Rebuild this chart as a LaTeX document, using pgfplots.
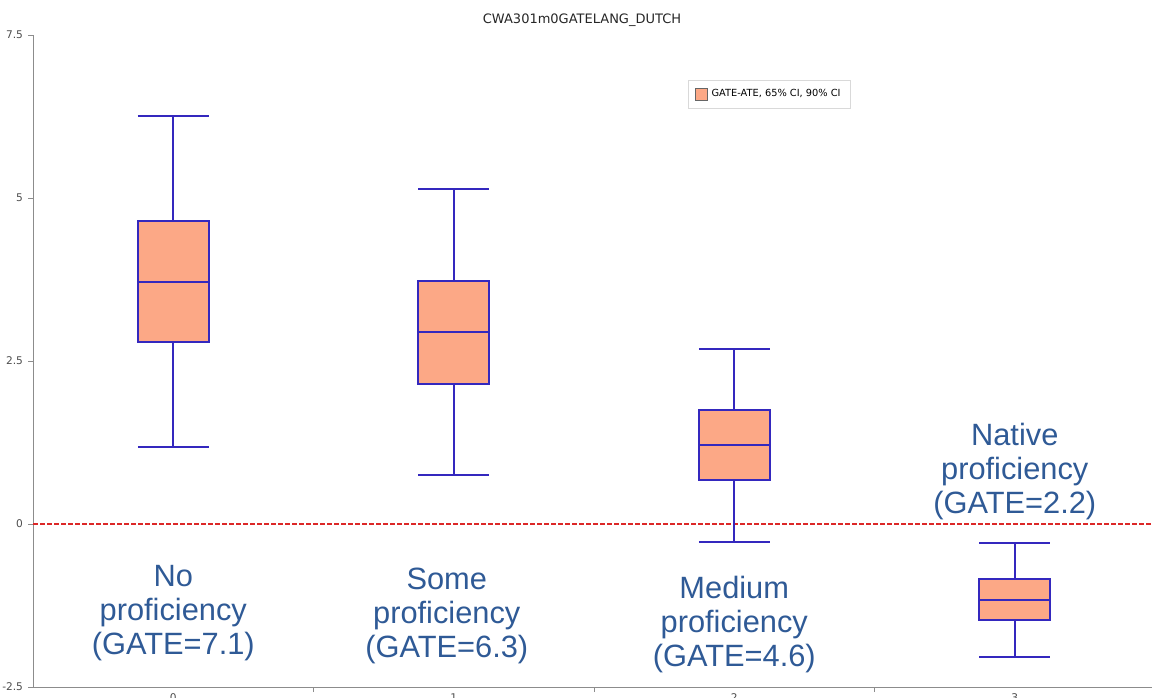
\documentclass[border=0pt]{standalone}
\usepackage{pgfplots}
\pgfplotsset{compat=1.18}
\usepgfplotslibrary{statistics}
\usepackage{fontspec}
\setmainfont{DejaVu Sans}
\newfontfamily\annfont{Liberation Sans}
\definecolor{boxfill}{RGB}{252,168,134}
\definecolor{boxline}{RGB}{52,40,190}
\definecolor{anncol}{RGB}{47,90,150}
\definecolor{zeroline}{RGB}{220,40,40}

\begin{document}
\begin{tikzpicture}[
  ann/.style={font=\annfont\fontsize{15.4}{17}\selectfont, text=anncol, align=center}
]
\path[use as bounding box] (0,0) rectangle (576pt,348.5pt);
\node[font=\fontsize{6.5}{8}\selectfont, text=black!85] at (291pt,338.5pt) {CWA301m0GATELANG\_DUTCH};
\begin{axis}[
  at={(16.5pt,5pt)}, anchor=south west,
  scale only axis, width=561pt, height=326pt,
  xmin=-0.5, xmax=3.5, ymin=-2.5, ymax=7.5,
  axis x line=bottom, axis y line=left,
  axis line style={black!45, -},
  tick align=outside, major tick length=2.5pt,
  tick style={black!45},
  ytick={-2.5,0,2.5,5,7.5},
  yticklabels={-2.5,0,2.5,5,7.5},
  xtick={0.5,1.5,2.5}, xticklabels={},
  extra x ticks={0,1,2,3},
  extra x tick labels={0,1,2,3},
  extra x tick style={major tick length=0pt},
  tick label style={font=\fontsize{5.3}{6}\selectfont, text=black!70},
  yticklabel style={xshift=1pt},
  legend style={at={(0.584,0.931)}, anchor=north west, draw=black!15,
    font=\fontsize{4.9}{5.8}\selectfont, inner xsep=3pt, inner ysep=2.5pt},
  legend cell align=left,
  legend image code/.code={\draw[#1] (0pt,-3pt) rectangle (6pt,3pt);},
  boxplot/draw direction=y,
]
\addplot[zeroline, line width=0.6pt, dash pattern=on 2.5pt off 1pt, forget plot]
  coordinates {(-0.5,0) (3.5,0)};

\addplot[forget plot, fill=boxfill, draw=boxline, line width=0.9pt, mark=none,
  boxplot prepared={draw position=0, lower whisker=1.18, lower quartile=2.79,
    median=3.71, upper quartile=4.65, upper whisker=6.26,
    box extend=0.253, whisker extend=0.253}] coordinates {};
\addplot[forget plot, fill=boxfill, draw=boxline, line width=0.9pt, mark=none,
  boxplot prepared={draw position=1, lower whisker=0.75, lower quartile=2.15,
    median=2.94, upper quartile=3.73, upper whisker=5.14,
    box extend=0.253, whisker extend=0.253}] coordinates {};
\addplot[forget plot, fill=boxfill, draw=boxline, line width=0.9pt, mark=none,
  boxplot prepared={draw position=2, lower whisker=-0.28, lower quartile=0.67,
    median=1.21, upper quartile=1.75, upper whisker=2.68,
    box extend=0.253, whisker extend=0.253}] coordinates {};
\addplot[forget plot, fill=boxfill, draw=boxline, line width=0.9pt, mark=none,
  boxplot prepared={draw position=3, lower whisker=-2.04, lower quartile=-1.47,
    median=-1.17, upper quartile=-0.84, upper whisker=-0.29,
    box extend=0.253, whisker extend=0.253}] coordinates {};

\addlegendimage{fill=boxfill, draw=black!60, line width=0.5pt}
\addlegendentry{GATE-ATE, 65\% CI, 90\% CI}

\node[ann] at (axis cs:0,-1.37) {No\\proficiency\\(GATE=7.1)};
\node[ann] at (axis cs:0.975,-1.41) {Some\\proficiency\\(GATE=6.3)};
\node[ann] at (axis cs:2.0,-1.54) {Medium\\proficiency\\(GATE=4.6)};
\node[ann] at (axis cs:3.0,0.81) {Native\\proficiency\\(GATE=2.2)};
\end{axis}
\end{tikzpicture}
\end{document}
